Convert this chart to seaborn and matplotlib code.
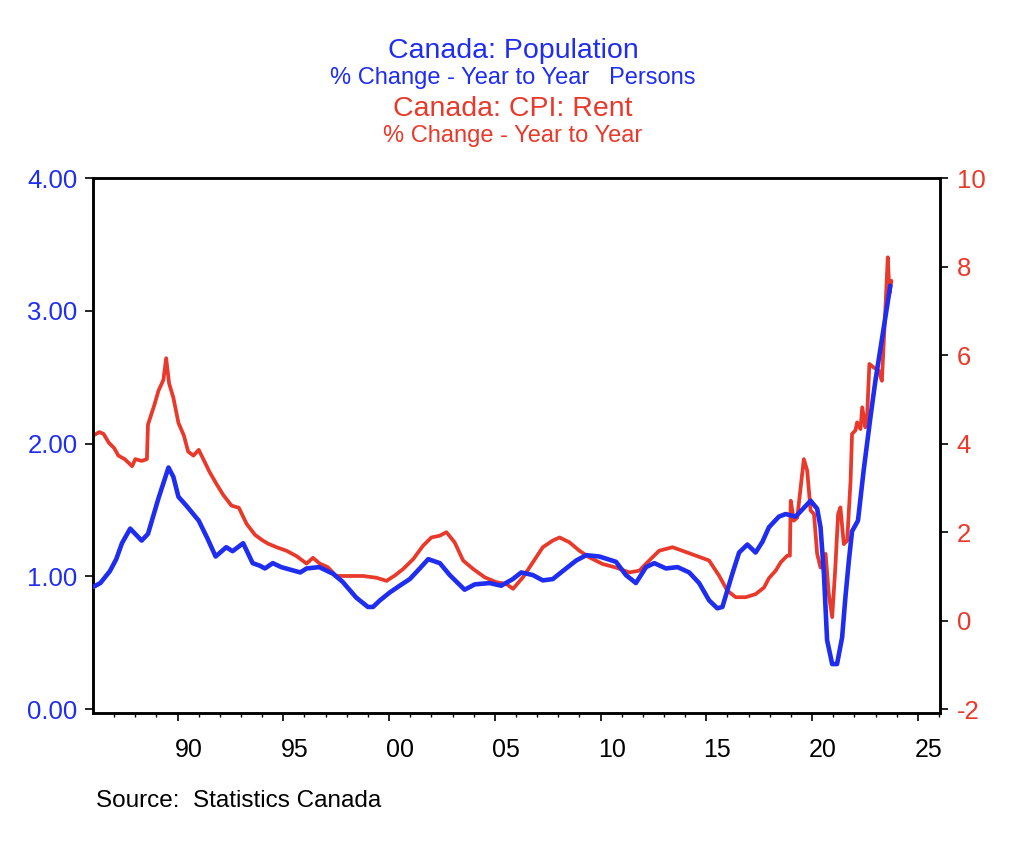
import numpy as np
import matplotlib
matplotlib.use("Agg")
import matplotlib.pyplot as plt
import matplotlib.transforms as mtransforms
import seaborn as sns

# ── Data ──────────────────────────────────────────────────────
# Canada: Population, % change year to year (left axis)
pop_t = [1986.0, 1986.35, 1986.8, 1987.1, 1987.37, 1987.76, 1988.3, 1988.6,
         1989.1, 1989.57, 1989.8, 1990.04, 1990.43, 1991.0, 1991.4, 1991.8,
         1992.3, 1992.6, 1993.1, 1993.55, 1993.9, 1994.13, 1994.5, 1994.9,
         1995.8, 1996.1, 1996.7, 1997.35, 1997.8, 1998.45, 1999.0, 1999.24,
         1999.57, 2000.04, 2000.5, 2000.98, 2001.45, 2001.85, 2002.4, 2002.87,
         2003.57, 2004.05, 2004.75, 2005.3, 2005.85, 2006.25, 2006.8, 2007.27,
         2007.74, 2008.21, 2008.85, 2009.32, 2009.94, 2010.73, 2011.2, 2011.67,
         2012.15, 2012.54, 2013.09, 2013.64, 2014.19, 2014.66, 2015.13, 2015.52,
         2015.76, 2016.23, 2016.55, 2016.94, 2017.33, 2017.65, 2017.96, 2018.43,
         2018.75, 2019.22, 2019.93, 2020.24, 2020.4, 2020.56, 2020.71, 2020.95,
         2021.18, 2021.42, 2021.58, 2021.74, 2021.89, 2022.17, 2022.44, 2022.76,
         2023.0, 2023.7]
pop_v = [0.92, 0.95, 1.04, 1.13, 1.25, 1.36, 1.27, 1.32,
         1.59, 1.82, 1.75, 1.60, 1.53, 1.42, 1.29, 1.15,
         1.22, 1.19, 1.25, 1.10, 1.08, 1.06, 1.10, 1.07,
         1.03, 1.06, 1.07, 1.02, 0.96, 0.84, 0.77, 0.77,
         0.82, 0.88, 0.93, 0.98, 1.06, 1.13, 1.10, 1.01,
         0.90, 0.94, 0.95, 0.93, 0.98, 1.03, 1.01, 0.97,
         0.98, 1.04, 1.12, 1.16, 1.15, 1.11, 1.01, 0.95,
         1.07, 1.10, 1.06, 1.07, 1.03, 0.95, 0.82, 0.76,
         0.77, 1.02, 1.18, 1.24, 1.18, 1.26, 1.37, 1.45,
         1.47, 1.45, 1.57, 1.51, 1.37, 1.02, 0.52, 0.34,
         0.34, 0.54, 0.85, 1.12, 1.34, 1.42, 1.80, 2.20,
         2.48, 3.19]

# Canada: CPI Rent, % change year to year (right axis)
rent_t = [1986.0, 1986.3, 1986.5, 1986.75, 1987.0, 1987.2, 1987.5, 1987.85,
          1988.0, 1988.3, 1988.55, 1988.6, 1988.9, 1989.1, 1989.33, 1989.46,
          1989.6, 1989.8, 1990.04, 1990.3, 1990.5, 1990.75, 1991.0, 1991.3,
          1991.5, 1991.85, 1992.16, 1992.55, 1992.9, 1993.26, 1993.66, 1994.0,
          1994.28, 1994.68, 1995.15, 1995.62, 1996.1, 1996.4, 1996.72, 1997.1,
          1997.5, 1997.98, 1998.77, 1999.4, 1999.88, 2000.27, 2000.67, 2001.14,
          2001.6, 2002.0, 2002.4, 2002.71, 2003.1, 2003.5, 2003.97, 2004.52,
          2005.07, 2005.54, 2005.86, 2006.33, 2006.8, 2007.27, 2007.74, 2008.06,
          2008.53, 2009.0, 2009.47, 2010.1, 2010.73, 2011.36, 2011.83, 2012.3,
          2012.77, 2013.4, 2013.87, 2014.5, 2015.13, 2015.6, 2015.99, 2016.39,
          2016.86, 2017.33, 2017.73, 2017.96, 2018.28, 2018.52, 2018.83, 2018.95,
          2018.99, 2019.14, 2019.3, 2019.46, 2019.61, 2019.77, 2019.93, 2020.09,
          2020.24, 2020.4, 2020.64, 2020.79, 2020.95, 2021.1, 2021.23, 2021.34,
          2021.5, 2021.66, 2021.82, 2021.89, 2022.05, 2022.13, 2022.29, 2022.37,
          2022.52, 2022.6, 2022.71, 2022.92, 2023.15, 2023.3, 2023.47, 2023.58,
          2023.66, 2023.75]
rent_v = [4.18, 4.26, 4.22, 4.02, 3.90, 3.73, 3.65, 3.49,
          3.65, 3.61, 3.65, 4.43, 4.87, 5.20, 5.44, 5.93,
          5.36, 5.04, 4.47, 4.18, 3.82, 3.73, 3.86, 3.57,
          3.37, 3.08, 2.84, 2.60, 2.55, 2.19, 1.94, 1.82,
          1.74, 1.66, 1.58, 1.46, 1.29, 1.42, 1.29, 1.21,
          1.01, 1.01, 1.01, 0.97, 0.90, 1.02, 1.17, 1.39,
          1.69, 1.88, 1.92, 2.00, 1.77, 1.36, 1.17, 0.98,
          0.87, 0.83, 0.72, 0.98, 1.32, 1.66, 1.81, 1.88,
          1.77, 1.58, 1.43, 1.28, 1.20, 1.09, 1.13, 1.36,
          1.58, 1.66, 1.58, 1.47, 1.36, 1.02, 0.68, 0.53,
          0.53, 0.60, 0.75, 0.96, 1.13, 1.32, 1.47, 1.47,
          2.71, 2.26, 2.33, 3.01, 3.65, 3.39, 2.49, 2.41,
          1.51, 1.20, 1.51, 0.60, 0.08, 1.20, 2.41, 2.56,
          1.73, 1.81, 3.16, 4.22, 4.30, 4.48, 4.33, 4.82,
          4.37, 4.60, 5.80, 5.72, 5.65, 5.42, 7.08, 8.21,
          7.40, 7.68]

left_ticks = [0, 1, 2, 3, 4]
right_ticks = [-2, 0, 2, 4, 6, 8, 10]
year_ticks = [1990, 1995, 2000, 2005, 2010, 2015, 2020, 2025]
year_labels = ["90", "95", "00", "05", "10", "15", "20", "25"]

BLUE = "#1f2df0"
RED = "#e8392b"
FONT = ["Liberation Sans", "DejaVu Sans"]


def main():
    sns.set_style("white")
    plt.rcParams["font.family"] = FONT

    fig = plt.figure(figsize=(10.24, 8.44), dpi=100)
    fig.patch.set_facecolor("white")
    ax = fig.add_axes([0.0908, 0.155, 0.8272, 0.634])
    ax2 = ax.twinx()

    sns.lineplot(x=pop_t, y=pop_v, ax=ax, color=BLUE, lw=3.3, zorder=3)
    sns.lineplot(x=rent_t, y=rent_v, ax=ax2, color=RED, lw=2.7, zorder=2)
    # blue line drawn over red
    ax.set_zorder(ax2.get_zorder() + 1)
    ax.patch.set_visible(False)

    ax.set_xlim(1986.0, 2026.05)
    ax.set_ylim(-0.03, 4.0)
    ax2.set_ylim(-2.09, 10.0)

    ax.set_yticks(left_ticks)
    ax.set_yticklabels([f"{v:.2f}" for v in left_ticks])
    ax2.set_yticks(right_ticks)
    ax2.set_yticklabels([str(v) for v in right_ticks])

    ax.set_xticks(year_ticks)
    ax.set_xticklabels(year_labels)
    ax.set_xticks(np.arange(1987, 2027), minor=True)

    for a in (ax, ax2):
        for s in a.spines.values():
            s.set_color("black")
            s.set_linewidth(1.8)
        a.set_xlabel("")
        a.set_ylabel("")

    ax.tick_params(axis="y", colors=BLUE, labelsize=18.5, length=6, width=1.2,
                   direction="out", pad=5, left=True)
    ax.tick_params(axis="y", color="black")
    ax2.tick_params(axis="y", colors=RED, labelsize=18.5, length=6, width=1.2,
                    direction="out", pad=6, right=True)
    ax2.tick_params(axis="y", color="black")
    ax.tick_params(axis="x", which="major", labelsize=18, length=6, width=1.2,
                   direction="out", pad=12, colors="black", bottom=True)
    ax.tick_params(axis="x", which="minor", length=3, width=1.0,
                   direction="out", colors="black", bottom=True)

    # year labels sit half a year to the right of the tick
    shift = mtransforms.ScaledTranslation(11 / 100, 0, fig.dpi_scale_trans)
    for lbl in ax.get_xticklabels():
        lbl.set_transform(lbl.get_transform() + shift)

    # ── Titles ────────────────────────────────────────────────
    fig.text(0.501, 0.939, "Canada: Population", color=BLUE, fontsize=20.5,
             ha="center", va="center")
    fig.text(0.501, 0.907, "% Change - Year to Year   Persons", color=BLUE,
             fontsize=17, ha="center", va="center")
    fig.text(0.501, 0.871, "Canada: CPI: Rent", color=RED, fontsize=20.5,
             ha="center", va="center")
    fig.text(0.501, 0.839, "% Change - Year to Year", color=RED, fontsize=17,
             ha="center", va="center")

    fig.text(0.094, 0.051, "Source:  Statistics Canada", color="black",
             fontsize=17.5, ha="left", va="center")

    fig.savefig("out.png", dpi=100, facecolor="white")
    plt.close(fig)


if __name__ == "__main__":
    main()
